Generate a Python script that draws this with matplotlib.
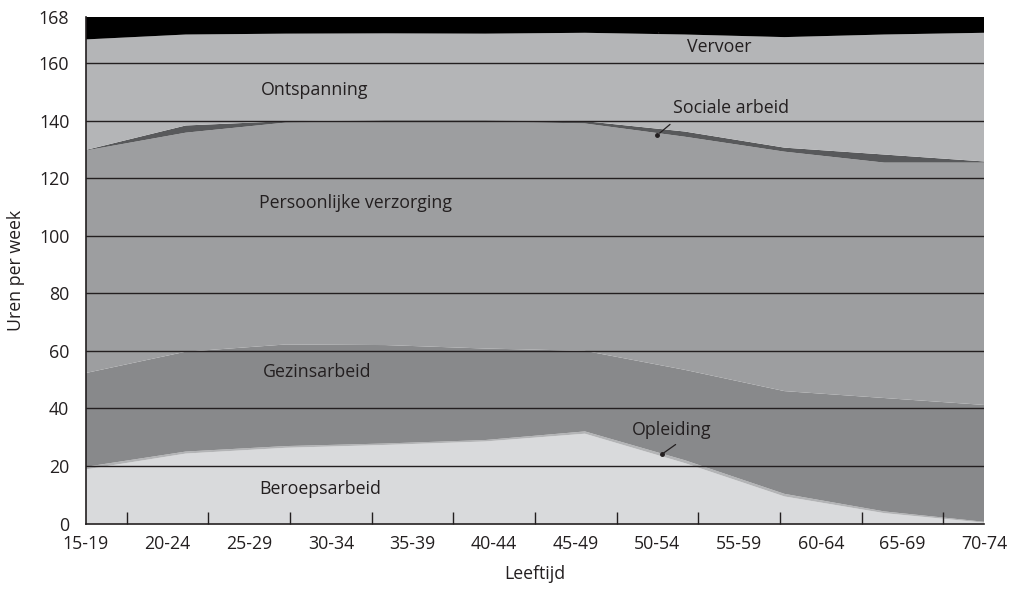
import numpy as np
import matplotlib.pyplot as plt

plt.rcParams['font.family'] = ['Open Sans', 'DejaVu Sans']

leeftijd = ["15-19", "20-24", "25-29", "30-34", "35-39", "40-44",
            "45-49", "50-54", "55-59", "60-64", "65-69", "70-74"]

# uren per week (10 meetpunten)
beroepsarbeid = [18.8, 24.3, 26.3, 27.3, 28.5, 31.2, 21.0, 9.4, 3.6, 0.3]
opleiding = [0.9, 0.7, 0.6, 0.5, 0.5, 0.8, 1.0, 0.9, 0.6, 0.3]
gezinsarbeid = [32.6, 34.7, 35.3, 34.2, 31.8, 28.0, 31.4, 35.7, 39.4, 40.6]
persoonlijke_verzorging = [77.3, 76.1, 77.1, 77.7, 78.9, 79.0, 81.0, 83.2, 81.8, 84.2]
sociale_arbeid = [0.2, 2.5, 0.5, 0.4, 0.4, 0.8, 1.8, 1.4, 2.8, 0.4]
ontspanning = [38.4, 31.6, 30.4, 30.2, 30.1, 30.7, 33.7, 38.4, 41.7, 44.7]
vervoer = [7.8, 6.1, 5.8, 5.7, 5.8, 5.5, 6.1, 7.0, 6.1, 5.5]

y_ticks = [0, 20, 40, 60, 80, 100, 120, 140, 160]

lagen = [beroepsarbeid, opleiding, gezinsarbeid, persoonlijke_verzorging,
         sociale_arbeid, ontspanning, vervoer]
kleuren = ["#d9dadc", "#b3b4b6", "#88898b", "#9d9ea0", "#58595b", "#b4b5b7", "#000000"]

x = np.linspace(0, len(leeftijd) - 1, len(beroepsarbeid))

fig = plt.figure(figsize=(10.21, 5.89), dpi=100)
ax = fig.add_axes([0.0842, 0.1112, 0.8796, 0.86])

ax.stackplot(x, *lagen, colors=kleuren, linewidth=0)
totaal = np.sum(lagen, axis=0)
top = totaal.max()

for yv in y_ticks[1:]:
    ax.axhline(yv, color="#231f20", lw=1.0, zorder=3)

ax.set_xlim(0, len(leeftijd) - 1)
ax.set_ylim(0, top)

fs = 12.8
ax.set_xticks(range(len(leeftijd)))
ax.set_xticklabels(leeftijd, fontsize=fs)
ax.set_xticks(np.arange(0.5, len(leeftijd) - 1, 1), minor=True)
ax.tick_params(axis="x", which="major", length=0, pad=8, colors="#231f20")
ax.tick_params(axis="x", which="minor", direction="in", length=9, width=1, color="#231f20")

ax.set_yticks(y_ticks + [top])
ax.set_yticklabels([str(v) for v in y_ticks] + ["168"], fontsize=fs)
ax.tick_params(axis="y", length=0, pad=12, colors="#231f20")

for s in ["top", "right"]:
    ax.spines[s].set_visible(False)
for s in ["left", "bottom"]:
    ax.spines[s].set_color("#231f20")
    ax.spines[s].set_linewidth(1.2)
    ax.spines[s].set_zorder(4)

ax.set_xlabel("Leeftijd", fontsize=fs, labelpad=9, color="#231f20")
ax.set_ylabel("Uren per week", fontsize=fs, labelpad=10, color="#231f20")

ax.text(2.80, 150.5, "Ontspanning", fontsize=fs, ha="center", va="center", color="#231f20")
ax.text(3.30, 111.5, "Persoonlijke verzorging", fontsize=fs, ha="center", va="center", color="#231f20")
ax.text(2.83, 52.5, "Gezinsarbeid", fontsize=fs, ha="center", va="center", color="#231f20")
ax.text(2.87, 12.0, "Beroepsarbeid", fontsize=fs, ha="center", va="center", color="#231f20")
ax.text(7.76, 165.5, "Vervoer", fontsize=fs, ha="center", va="center", color="#231f20")
ax.text(7.90, 144.5, "Sociale arbeid", fontsize=fs, ha="center", va="center", color="#231f20")
ax.text(7.17, 32.5, "Opleiding", fontsize=fs, ha="center", va="center", color="#231f20")

# aanwijslijntjes
ax.annotate("", xy=(7.0, 135.0), xytext=(7.18, 139.3),
            arrowprops=dict(arrowstyle="-", color="#231f20", lw=0.9))
ax.plot(7.0, 135.0, "o", ms=2.5, color="#231f20", zorder=5)
ax.annotate("", xy=(7.05, 24.0), xytext=(7.25, 28.0),
            arrowprops=dict(arrowstyle="-", color="#231f20", lw=0.9))
ax.plot(7.05, 24.0, "o", ms=2.5, color="#231f20", zorder=5)
ax.annotate("", xy=(7.03, 169.5), xytext=(7.0, 171.5),
            arrowprops=dict(arrowstyle="-", color="#231f20", lw=0.8))

fig.savefig("out.png", dpi=100)
